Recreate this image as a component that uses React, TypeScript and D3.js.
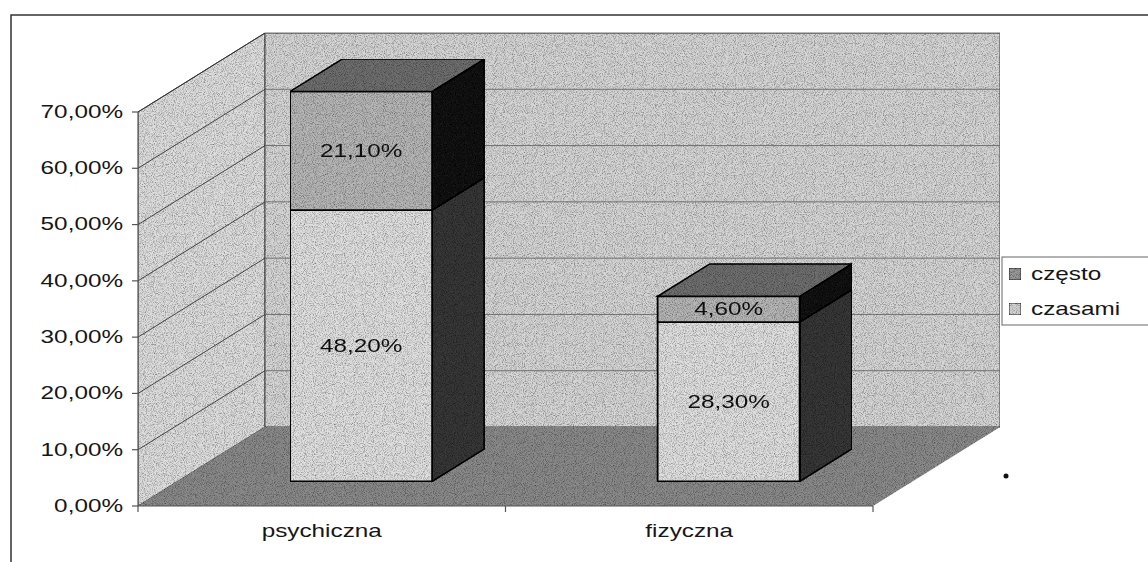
import React from "react";
import * as d3 from "d3";

const categories = ["psychiczna", "fizyczna"];
const seriesNames = ["często", "czasami"];
const czasami = [48.2, 28.3];
const czesto = [21.1, 4.6];
const yTicks = [0, 10, 20, 30, 40, 50, 60, 70];

const W = 1148;
const H = 562;
const DX = 127;
const DY = -79;
const D0 = 0.31;
const D1 = 0.72;
const BAR_W = 142;
const SX = 1.35;

const fmt = (v: number) => v.toFixed(2).replace(".", ",") + "%";

function Txt({ x, y, children, anchor = "middle", size = 18 }: any) {
  return (
    <text
      transform={`translate(${x},${y}) scale(${SX},1)`}
      textAnchor={anchor}
      fontFamily="Liberation Sans, Arial, sans-serif"
      fontSize={size}
      fill="#161616"
      dominantBaseline="central"
    >
      {children}
    </text>
  );
}

export default function App() {
  const x = d3.scaleBand<string>().domain(categories).range([138, 873]);
  const y = d3.scaleLinear().domain([0, 70]).range([506, 112]);
  const P = (px: number, py: number, d: number): [number, number] => [px + d * DX, py + d * DY];
  const pts = (arr: [number, number][]) => arr.map((p) => p.join(",")).join(" ");

  const x0 = x.range()[0];
  const x1 = x.range()[1];
  const yb = y(0);
  const yt = y(70);

  const leftWall = pts([P(x0, yb, 0), P(x0, yt, 0), P(x0, yt, 1), P(x0, yb, 1)]);
  const backWall = pts([P(x0, yt, 1), P(x1, yt, 1), P(x1, yb, 1), P(x0, yb, 1)]);
  const floor = pts([P(x0, yb, 0), P(x1, yb, 0), P(x1, yb, 1), P(x0, yb, 1)]);

  const bars: any[] = [];
  categories.forEach((c, i) => {
    const cx = (x(c) as number) + x.bandwidth() / 2;
    const l = cx - BAR_W / 2;
    const r = cx + BAR_W / 2;
    const segs = [
      { v0: 0, v1: czasami[i], front: "#e0e0e0", side: "#383838", label: czasami[i] },
      { v0: czasami[i], v1: czasami[i] + czesto[i], front: "#b6b6b6", side: "#141414", label: czesto[i] },
    ];
    segs.forEach((s, j) => {
      const yA = y(s.v0);
      const yB = y(s.v1);
      const front = pts([P(l, yA, D0), P(r, yA, D0), P(r, yB, D0), P(l, yB, D0)]);
      const side = pts([P(r, yA, D0), P(r, yB, D0), P(r, yB, D1), P(r, yA, D1)]);
      const [lx, ly] = P(cx, (yA + yB) / 2, D0);
      bars.push(
        <g key={`${c}-${j}`}>
          <polygon points={side} fill={s.side} stroke="#000" strokeWidth={1.5} />
          <polygon points={front} fill={s.front} stroke="#000" strokeWidth={1.8} />
          <Txt x={lx} y={ly}>{fmt(s.label)}</Txt>
        </g>
      );
      if (j === segs.length - 1) {
        const top = pts([P(l, yB, D0), P(r, yB, D0), P(r, yB, D1), P(l, yB, D1)]);
        bars.push(<polygon key={`${c}-top`} points={top} fill="#6e6e6e" stroke="#000" strokeWidth={1.5} />);
      }
    });
  });

  return (
    <svg
      width={W}
      height={H}
      style={{ position: "absolute", left: 0, top: 0, display: "block", background: "#fff" }}
    >
      <defs>
        <filter id="grain" x="0" y="0" width="100%" height="100%">
          <feTurbulence type="fractalNoise" baseFrequency="1.1" numOctaves="1" seed="3" result="n" />
          <feColorMatrix
            in="n"
            type="matrix"
            values="0 0 0 0 0  0 0 0 0 0  0 0 0 0 0  1.8 0 0 0 -0.75"
            result="a"
          />
          <feComposite in="a" in2="SourceGraphic" operator="in" result="s" />
          <feMerge>
            <feMergeNode in="SourceGraphic" />
            <feMergeNode in="s" />
          </feMerge>
        </filter>
      </defs>

      <rect x={11} y={15} width={W} height={H} fill="#fff" stroke="#333" strokeWidth={1.5} />

      <g filter="url(#grain)">
        <polygon points={leftWall} fill="#dedede" stroke="#444" strokeWidth={1} />
        <polygon points={backWall} fill="#d6d6d6" stroke="#444" strokeWidth={1} />
        <polygon points={floor} fill="#8a8a8a" stroke="none" />
      </g>

      {yTicks.slice(1).map((t) => {
        const a = P(x0, y(t), 0);
        const b = P(x0, y(t), 1);
        const c = P(x1, y(t), 1);
        return (
          <g key={`g${t}`}>
            <line x1={a[0]} y1={a[1]} x2={b[0]} y2={b[1]} stroke="#333" strokeWidth={0.9} />
            <line x1={b[0]} y1={b[1]} x2={c[0]} y2={c[1]} stroke="#666" strokeWidth={0.9} />
          </g>
        );
      })}

      <g filter="url(#grain)">{bars}</g>

      <line x1={x0} y1={yt} x2={x0} y2={yb} stroke="#555" strokeWidth={1.2} />
      <line x1={x0} y1={yb} x2={x1} y2={yb} stroke="#555" strokeWidth={1.2} />
      {yTicks.map((t) => (
        <g key={`t${t}`}>
          <line x1={x0 - 6} y1={y(t)} x2={x0} y2={y(t)} stroke="#555" strokeWidth={1.2} />
          <Txt x={123} y={y(t)} anchor="end">{fmt(t)}</Txt>
        </g>
      ))}
      {[x0, ...categories.map((c) => (x(c) as number) + x.bandwidth())].map((v, i) => (
        <line key={`ct${i}`} x1={v} y1={yb} x2={v} y2={yb + 6} stroke="#555" strokeWidth={1.2} />
      ))}
      {categories.map((c) => (
        <Txt key={`cl${c}`} x={(x(c) as number) + x.bandwidth() / 2} y={531}>{c}</Txt>
      ))}

      <circle cx={1006} cy={476} r={2.5} fill="#111" />

      <g>
        <rect x={1002} y={257} width={170} height={68} fill="#fff" stroke="#666" strokeWidth={1} />
        {seriesNames.map((s, i) => (
          <g key={`lg${s}`} filter="url(#grain)">
            <rect
              x={1009}
              y={268 + i * 35}
              width={12}
              height={12}
              fill={i === 0 ? "#9a9a9a" : "#d4d4d4"}
              stroke="#222"
              strokeWidth={1}
            />
          </g>
        ))}
        {seriesNames.map((s, i) => (
          <Txt key={`lt${s}`} x={1031} y={274 + i * 35} anchor="start">{s}</Txt>
        ))}
      </g>
    </svg>
  );
}
